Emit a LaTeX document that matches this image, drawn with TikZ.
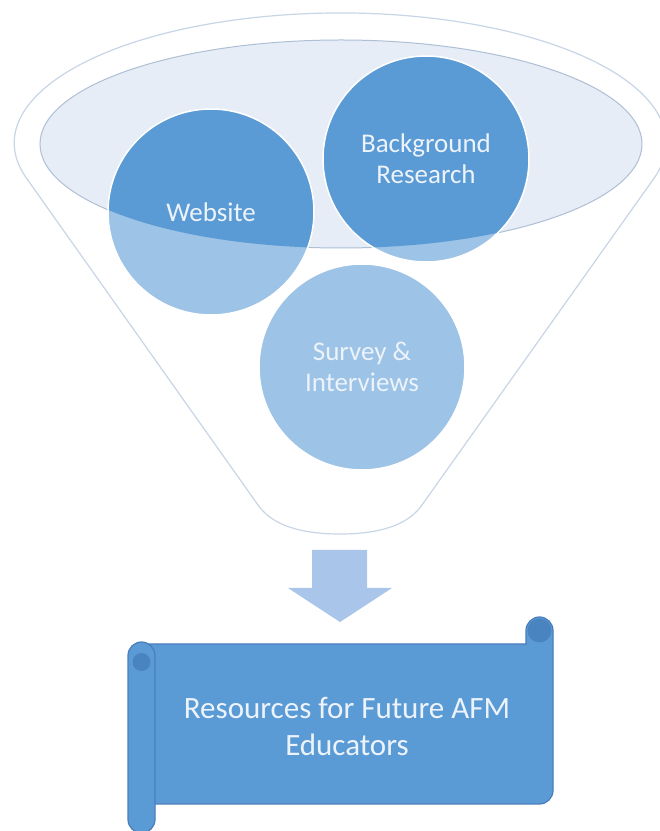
\documentclass[tikz,border=0pt]{standalone}
\usepackage{fontspec}
\setmainfont{Carlito}
\usetikzlibrary{positioning}
\definecolor{rimline}{HTML}{C8D5E6}
\definecolor{rimedge}{HTML}{AEBFD5}
\definecolor{rimfill}{HTML}{E7EDF6}
\definecolor{deepblue}{HTML}{5B9BD5}
\definecolor{paleblue}{HTML}{9DC3E6}
\definecolor{arrowblue}{HTML}{A9C5E9}
\definecolor{scrollline}{HTML}{4A7EBB}
\definecolor{curlblue}{HTML}{4A84C0}
\definecolor{softwhite}{HTML}{EDF3FA}

\begin{document}
\begin{tikzpicture}[x=1pt, y=1pt,
  bubble/.style={circle, minimum size=206pt, inner sep=0pt, draw=white, line width=1.5pt,
    fill=paleblue, text=softwhite, align=center, font=\fontsize{27}{31}\selectfont,
    path picture={\fill[deepblue] (rim) ellipse [x radius=301pt, y radius=104pt];}},
  scrollpart/.style={draw=scrollline, line width=1.2pt, fill=deepblue}]
\useasboundingbox[fill=white] (0,0) rectangle (660,831);
\coordinate (rim) at (341,687);
\draw[rimline, fill=white, line width=1.2pt] (26,653.5)
  arc[start angle=195.4, end angle=-15.4, x radius=326pt, y radius=130pt]
  -- (422,326) .. controls (408,306) and (380,297) .. (340,297)
  .. controls (300,297) and (272,306) .. (258,326) -- cycle;
\draw[rimedge, fill=rimfill, line width=1pt] (rim) ellipse [x radius=301pt, y radius=104pt];
\node[bubble] (web) at (211,619) {Website};
\node[bubble] (bgr) at (426,672) {Background\\Research};
\node[bubble] (srv) at (362,464) {Survey \&\\Interviews};
\fill[arrowblue] (312,281) -- (367,281) -- (367,243) -- (392,243) -- (340,209)
  -- (288,243) -- (312,243) -- cycle;
\draw[scrollpart] (141.5,187) -- (526,187) -- (526,200.5)
  arc[start angle=180, end angle=0, radius=13.5pt] -- (553,40.5)
  arc[start angle=0, end angle=-90, radius=13.5pt] -- (141.5,27) -- cycle;
\fill[curlblue] (539.5,200.5) circle[radius=12pt];
\draw[scrollpart, rounded corners=13.5pt] (128,-2) rectangle (155,189);
\fill[curlblue] (141.5,169) circle[radius=9pt];
\node[text=softwhite, align=center, font=\fontsize{31}{37}\selectfont] (res) at (347,105)
  {Resources for Future AFM\\Educators};
\end{tikzpicture}
\end{document}
